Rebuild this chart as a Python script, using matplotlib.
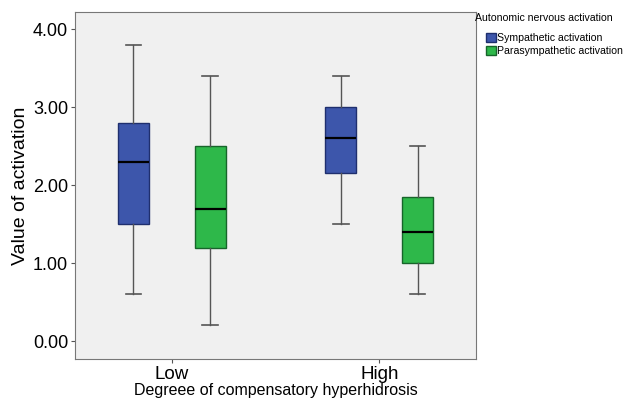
import matplotlib
matplotlib.use('Agg')
import matplotlib.pyplot as plt
from matplotlib.patches import Patch

plt.rcParams['font.family'] = ['Liberation Sans', 'DejaVu Sans']

# Datos (min, Q1, mediana, Q3, max)
groups = ['Low', 'High']
series = ['Sympathetic activation', 'Parasympathetic activation']
colors = ['#3d56ab', '#2eb84a']
edge_colors = ['#1f2f6e', '#17652a']

sym_min = [0.6, 1.5]
sym_q1 = [1.5, 2.15]
sym_med = [2.3, 2.6]
sym_q3 = [2.8, 3.0]
sym_max = [3.8, 3.4]

para_min = [0.2, 0.6]
para_q1 = [1.2, 1.0]
para_med = [1.7, 1.4]
para_q3 = [2.5, 1.85]
para_max = [3.4, 2.5]

y_ticks = [0.0, 1.0, 2.0, 3.0, 4.0]

fig = plt.figure(figsize=(6.25, 4.01), dpi=100)
ax = fig.add_axes([0.12, 0.1047, 0.6416, 0.8653])
ax.set_facecolor('#f0f0f0')

offset = 0.185
width = 0.15
all_stats = [
    (sym_min, sym_q1, sym_med, sym_q3, sym_max),
    (para_min, para_q1, para_med, para_q3, para_max),
]

for s, (mn, q1, med, q3, mx) in enumerate(all_stats):
    stats = []
    for i in range(len(groups)):
        stats.append({'whislo': mn[i], 'q1': q1[i], 'med': med[i],
                      'q3': q3[i], 'whishi': mx[i], 'fliers': []})
    pos = [i + (offset if s == 1 else -offset) for i in range(len(groups))]
    ax.bxp(stats, positions=pos, widths=width, patch_artist=True,
           showfliers=False, manage_ticks=False,
           boxprops=dict(facecolor=colors[s], edgecolor=edge_colors[s], linewidth=1),
           medianprops=dict(color='black', linewidth=1.6),
           whiskerprops=dict(color='#555555', linewidth=1),
           capprops=dict(color='#555555', linewidth=1.2),
           capwidths=width / 2)

ax.set_xlim(-0.466, 1.466)
ax.set_ylim(-0.23, 4.22)
ax.set_xticks(range(len(groups)))
ax.set_xticklabels(groups, fontsize=13.5)
ax.set_yticks(y_ticks)
ax.set_yticklabels(['%.2f' % v for v in y_ticks], fontsize=13)
ax.tick_params(axis='both', length=3, color='#555555', pad=2)
ax.set_xlabel('Degreee of compensatory hyperhidrosis', fontsize=11.5, labelpad=0)
ax.set_ylabel('Value of activation', fontsize=14, labelpad=3)
for sp in ax.spines.values():
    sp.set_color('#777777')

# Leyenda: título aparte y entradas con sangría
fig.text(475 / 625, 1 - 18 / 401, 'Autonomic nervous activation', fontsize=7.6,
         ha='left', va='center')
handles = [Patch(facecolor=colors[i], edgecolor=edge_colors[i], label=series[i]) for i in range(2)]
fig.legend(handles=handles, loc='upper left', bbox_to_anchor=(485 / 625, 1 - 32 / 401),
           frameon=False, fontsize=7.6, handlelength=0.9, handleheight=0.9,
           handletextpad=0.1, labelspacing=0.3, borderpad=0.1, borderaxespad=0)

fig.savefig('out.png', dpi=100)
